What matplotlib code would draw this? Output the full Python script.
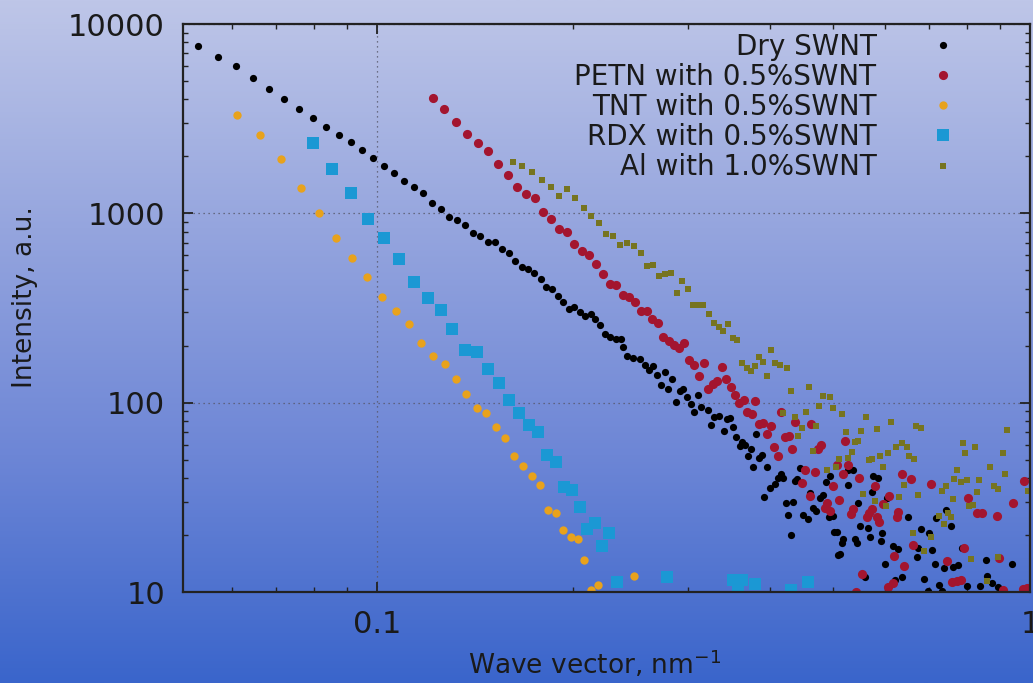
import numpy as np
import matplotlib
matplotlib.use('Agg')
import matplotlib.pyplot as plt
from matplotlib.colors import LinearSegmentedColormap
from matplotlib.ticker import FixedLocator, FuncFormatter, NullFormatter, LogLocator

# ---- data (q in nm^-1, intensity in a.u.) ----
dry_q = [0.0532, 0.0571, 0.0608, 0.0646, 0.0683, 0.0720, 0.0760, 0.0798, 0.0835, 0.0875,
         0.0912, 0.0948, 0.0986, 0.1025, 0.1062, 0.1100, 0.1139, 0.1176, 0.1214, 0.1253,
         0.1289, 0.1326, 0.1364, 0.1403, 0.1438, 0.1479, 0.1516, 0.1554, 0.1593, 0.1627,
         0.1668, 0.1703, 0.1740, 0.1783, 0.1815, 0.1854, 0.1893, 0.1927, 0.1968, 0.2003,
         0.2046, 0.2082, 0.2127, 0.2157, 0.2195, 0.2235, 0.2274, 0.2323, 0.2364, 0.2381,
         0.2415, 0.2466, 0.2528, 0.2573, 0.2609, 0.2647, 0.2684, 0.2723, 0.2761, 0.2791,
         0.2830, 0.2871, 0.2911, 0.2942, 0.2984, 0.3026, 0.3059, 0.3101, 0.3134, 0.3213,
         0.3247, 0.3281, 0.3340, 0.3400, 0.3436, 0.3473, 0.3510, 0.3547, 0.3597, 0.3622,
         0.3661, 0.3700, 0.3738, 0.3765, 0.3804, 0.3846, 0.3887, 0.3914, 0.3955, 0.3997,
         0.4068, 0.4112, 0.4155, 0.4185, 0.4229, 0.4259, 0.4305, 0.4335, 0.4366, 0.4397,
         0.4444, 0.4491, 0.4571, 0.4603, 0.4652, 0.4702, 0.4768, 0.4819, 0.4870, 0.4922,
         0.4939, 0.4992, 0.5009, 0.5063, 0.5081, 0.5117, 0.5153, 0.5171, 0.5263, 0.5263,
         0.5357, 0.5395, 0.5433, 0.5452, 0.5491, 0.5588, 0.5647, 0.5689, 0.5728, 0.5749,
         0.5851, 0.5913, 0.5934, 0.5998, 0.6039, 0.6169, 0.6213, 0.6279, 0.6368, 0.6504,
         0.6714, 0.6738, 0.6809, 0.6882, 0.6980, 0.7004, 0.7079, 0.7154, 0.7180, 0.7254,
         0.7331, 0.7383, 0.7435, 0.7567, 0.7621, 0.7756, 0.7867, 0.8006, 0.8381, 0.8561,
         0.8591, 0.8744, 0.8931, 0.9385, 0.9825]
dry_i = [7650, 6690, 6000, 5180, 4540, 4020, 3560, 3190, 2860, 2590,
         2380, 2160, 1960, 1780, 1630, 1480, 1380, 1280, 1130, 1050,
         956, 922, 868, 787, 759, 705, 705, 648, 617, 560,
         520, 508, 484, 450, 408, 398, 366, 340, 312, 320,
         301, 287, 294, 276, 257, 230, 222, 217, 217, 197,
         176, 172, 170, 158, 149, 156, 140, 124, 145, 118,
         133, 101, 115, 118, 107, 98, 89, 110, 95, 91,
         76, 84, 85, 71, 82, 83, 74, 66, 59, 62,
         60, 52, 57, 46, 68, 51, 53, 31.7, 46, 35.4,
         37.2, 40, 42, 40, 29.5, 25.5, 20.0, 29.8, 38.5, 39.5,
         45, 25.5, 24.3, 33.3, 27.7, 26.8, 31.3, 32.5, 38, 24.9,
         41, 25.2, 20.7, 20.7, 15.7, 15.9, 18.1, 19.0, 44, 36.7,
         44, 19.0, 18.1, 29.5, 22.3, 12.0, 21.8, 19.5, 33.7, 41,
         40, 18.6, 20.5, 14.0, 31.3, 17.5, 11.6, 16.8, 12.0, 24.9,
         15.3, 17.1, 21.5, 11.7, 10.1, 20.5, 16.7, 14.0, 24.6, 10.9,
         10.1, 13.4, 27.1, 22.3, 13.5, 13.9, 17.1, 10.7, 10.7, 14.7,
         12.1, 11.1, 10.6, 14.0, 10.0]

petn_q = [0.1218, 0.1266, 0.1321, 0.1373, 0.1428, 0.1479, 0.1532, 0.1587, 0.1638, 0.1691,
          0.1746, 0.1796, 0.1848, 0.1900, 0.1954, 0.2003, 0.2061, 0.2112, 0.2165, 0.2219,
          0.2274, 0.2323, 0.2381, 0.2432, 0.2484, 0.2537, 0.2591, 0.2637, 0.2694, 0.2742,
          0.2801, 0.2850, 0.2900, 0.2952, 0.3005, 0.3059, 0.3112, 0.3168, 0.3213, 0.3270,
          0.3317, 0.3376, 0.3424, 0.3485, 0.3534, 0.3584, 0.3648, 0.3687, 0.3752, 0.3792,
          0.3846, 0.3900, 0.3955, 0.4011, 0.4054, 0.4112, 0.4155, 0.4214, 0.4274, 0.4320,
          0.4366, 0.4475, 0.4523, 0.4603, 0.4619, 0.4685, 0.4735, 0.4786, 0.4853, 0.4887,
          0.4939, 0.4992, 0.5063, 0.5099, 0.5171, 0.5208, 0.5263, 0.5320, 0.5357, 0.5414,
          0.5471, 0.5530, 0.5628, 0.5668, 0.5728, 0.5789, 0.5830, 0.5872, 0.5955, 0.6061,
          0.6082, 0.6169, 0.6190, 0.6256, 0.6279, 0.6368, 0.6412, 0.6573, 0.6619, 0.7054,
          0.7461, 0.7594, 0.7729, 0.7839, 0.7922, 0.8035, 0.8294, 0.8442, 0.8900, 0.8963,
          0.9092, 0.9419, 0.9757, 0.9790, 0.9895]
petn_i = [4065, 3556, 3036, 2624, 2352, 2134, 1821, 1593, 1377, 1265,
          1204, 1016, 933, 826, 796, 688, 632, 602, 540, 478,
          423, 418, 370, 361, 340, 305, 305, 276, 263, 222,
          212, 201, 194, 206, 168, 158, 138, 162, 118, 125,
          130, 154, 133, 121, 110, 99.5, 103, 89, 87, 102,
          77, 78, 68, 75, 58, 52, 89, 66, 67, 57,
          79, 37.6, 44, 32.1, 77, 43, 57, 60, 27.7, 29.5,
          26.8, 36.3, 47, 30.6, 42, 63, 47, 25.8, 27.4, 10.0,
          40, 12.4, 24.9, 26.1, 27.4, 36.3, 24.9, 23.4, 29.1, 10.6,
          32.1, 11.1, 15.5, 24.9, 26.4, 42, 13.7, 39.5, 17.7, 37.2,
          14.6, 11.3, 11.4, 11.6, 17.1, 31.3, 26.1, 26.1, 25.2, 15.1,
          10.2, 29.5, 10.4, 38.5, 10.5]

tnt_q = [0.0610, 0.0662, 0.0713, 0.0765, 0.0815, 0.0866, 0.0916, 0.0965, 0.1018, 0.1069,
         0.1119, 0.1168, 0.1218, 0.1271, 0.1321, 0.1369, 0.1422, 0.1469, 0.1521, 0.1570,
         0.1621, 0.1674, 0.1728, 0.1776, 0.1827, 0.1880, 0.1927, 0.1982, 0.2031, 0.2075,
         0.2127, 0.2180, 0.2475]
tnt_i = [3306, 2592, 1935, 1361, 1004, 741, 581, 461, 361, 305,
         260, 206, 176, 160, 133, 111, 93.7, 88.1, 74, 65,
         52, 46.3, 41, 36.7, 27.1, 26.1, 21.2, 19.5, 19.0, 14.7,
         10.2, 10.9, 12.1]

rdx_q = [0.0798, 0.0853, 0.0912, 0.0969, 0.1025, 0.1081, 0.1139, 0.1197, 0.1253, 0.1303,
         0.1364, 0.1422, 0.1479, 0.1537, 0.1593, 0.1650, 0.1709, 0.1764, 0.1821, 0.1880,
         0.1934, 0.1989, 0.2046, 0.2097, 0.2157, 0.2211, 0.2266, 0.2331, 0.2780, 0.3510,
         0.3572, 0.3622, 0.3792, 0.4305, 0.4571]
rdx_i = [2352, 1714, 1280, 933, 741, 574, 434, 357, 308, 245,
         190, 185, 150, 127, 103, 88, 76, 70, 53, 48.5,
         35.8, 34.5, 28.1, 21.5, 23.1, 17.5, 20.5, 11.3, 12.0, 11.6,
         10.2, 11.6, 11.0, 10.2, 11.3]

al_q = [0.1615, 0.1668, 0.1728, 0.1789, 0.1848, 0.1900, 0.1954, 0.2010, 0.2075, 0.2127,
        0.2188, 0.2242, 0.2298, 0.2356, 0.2415, 0.2475, 0.2537, 0.2591, 0.2647, 0.2703,
        0.2761, 0.2820, 0.2881, 0.2932, 0.2994, 0.3047, 0.3101, 0.3157, 0.3224, 0.3281,
        0.3340, 0.3388, 0.3448, 0.3510, 0.3559, 0.3622, 0.3687, 0.3738, 0.3792, 0.3846,
        0.3900, 0.3955, 0.4011, 0.4068, 0.4138, 0.4244, 0.4305, 0.4185, 0.4366, 0.4413,
        0.4475, 0.4539, 0.4587, 0.4652, 0.4702, 0.4752, 0.4819, 0.4887, 0.4939, 0.4992,
        0.5045, 0.5099, 0.5153, 0.5226, 0.5263, 0.5338, 0.5395, 0.5452, 0.5510, 0.5549,
        0.5608, 0.5668, 0.5728, 0.5789, 0.5830, 0.5892, 0.5955, 0.6018, 0.6061, 0.6126,
        0.6234, 0.6301, 0.6368, 0.6412, 0.6481, 0.6527, 0.6619, 0.6643, 0.6690, 0.6738,
        0.6809, 0.6882, 0.7054, 0.7254, 0.7331, 0.7383, 0.7435, 0.7488, 0.7567, 0.7621,
        0.7648, 0.7729, 0.7839, 0.7894, 0.7950, 0.8006, 0.8063, 0.8121, 0.8178, 0.8236,
        0.8294, 0.8353, 0.8591, 0.8682, 0.8806, 0.8931, 0.8931, 0.9092, 0.9156, 0.9221,
        0.9930]
al_i = [1866, 1777, 1653, 1499, 1377, 1234, 1344, 1204, 1067, 968,
        889, 778, 759, 680, 697, 672, 617, 527, 533, 467,
        478, 484, 379, 439, 398, 328, 328, 328, 294, 263,
        251, 239, 260, 219, 214, 162, 152, 147, 156, 174,
        164, 138, 190, 162, 158, 152, 115, 88.1, 84, 66.6,
        73.4, 89, 121, 55.5, 75, 96, 108, 44, 107, 93.7,
        46, 50.4, 87, 70, 51, 54.8, 62, 63, 71, 32.9,
        84, 49.8, 50.4, 30.2, 72.5, 52, 46, 28.4, 54.2, 79,
        58.3, 31.7, 61.2, 36.7, 58.3, 52, 20.5, 50.4, 75, 32.5,
        73.4, 16.4, 19.5, 25.2, 34.1, 22.8, 36.3, 26.1, 24.9, 31.0,
        39.5, 44, 38, 61.2, 54.2, 39, 28.4, 14.9, 28.8, 58.3,
        33.7, 39, 11.4, 46, 36.3, 35.0, 15.3, 54.2, 42, 71.6,
        34.1]

labels = ['Dry SWNT', 'PETN with 0.5%SWNT', 'TNT with 0.5%SWNT',
          'RDX with 0.5%SWNT', 'Al with 1.0%SWNT']

plt.rcParams['font.family'] = ['DejaVu Sans']
plt.rcParams['mathtext.default'] = 'regular'
txt = '#1a1a1a'

fig = plt.figure(figsize=(10.33, 6.83), dpi=100)

# background gradient (lavender at top -> blue at bottom)
bg = fig.add_axes([0, 0, 1, 1], zorder=-10)
cmap = LinearSegmentedColormap.from_list('bg', ['#bec6e8', '#95a5de', '#6d86d6', '#3a65cb'])
grad = np.linspace(0, 1, 256).reshape(-1, 1)
bg.imshow(grad, aspect='auto', cmap=cmap, extent=[0, 1, 0, 1], origin='upper')
bg.axis('off')

ax = fig.add_axes([183 / 1033, 91 / 683, 847 / 1033, 568 / 683])
ax.set_facecolor('none')
ax.set_xscale('log')
ax.set_yscale('log')

ax.plot(dry_q, dry_i, 'o', color='black', ms=5.2, mew=0, label=labels[0])
ax.plot(petn_q, petn_i, 'o', color='#a3152f', ms=6.6, mew=0, label=labels[1])
ax.plot(tnt_q, tnt_i, 'o', color='#e8a21c', ms=6.0, mew=0, label=labels[2])
ax.plot(rdx_q, rdx_i, 's', color='#1b98d4', ms=8.0, mew=0, label=labels[3])
ax.plot(al_q, al_i, 's', color='#767420', ms=5.0, mew=0, label=labels[4])

ax.set_xlim(0.0505, 1.0)
ax.set_ylim(10, 10000)

ax.xaxis.set_major_locator(FixedLocator([0.1, 1]))
ax.xaxis.set_minor_locator(LogLocator(base=10, subs=np.arange(2, 10)))
ax.yaxis.set_major_locator(FixedLocator([10, 100, 1000, 10000]))
ax.yaxis.set_minor_locator(LogLocator(base=10, subs=np.arange(2, 10)))
fmt = FuncFormatter(lambda v, p: '%g' % v)
ax.xaxis.set_major_formatter(fmt)
ax.yaxis.set_major_formatter(fmt)
ax.xaxis.set_minor_formatter(NullFormatter())
ax.yaxis.set_minor_formatter(NullFormatter())

ax.tick_params(which='both', direction='in', top=True, right=True, colors='#222222')
ax.tick_params(which='major', length=7, width=1.3, labelsize=22, pad=13, labelcolor=txt)
ax.tick_params(which='minor', length=3.5, width=1.0)
for s in ax.spines.values():
    s.set_linewidth(1.6)
    s.set_color('#222222')

ax.grid(True, which='major', linestyle=(0, (1, 3)), color='#555566', linewidth=0.9)

fig.text(25 / 1033, 1 - 297 / 683, 'Intensity, a.u.', rotation=90,
         ha='center', va='center', fontsize=19, color=txt)
fig.text(595 / 1033, 1 - 664 / 683, 'Wave vector, nm$^{-1}$',
         ha='center', va='center', fontsize=19, color=txt)

leg = ax.legend(loc='upper right', bbox_to_anchor=(0.9138, 0.985), frameon=False,
                markerfirst=False, fontsize=20, handlelength=1.0, handletextpad=1.9,
                labelspacing=0.08, borderaxespad=0, borderpad=0)
for t in leg.get_texts():
    t.set_color(txt)

fig.savefig('out.png', dpi=100)
